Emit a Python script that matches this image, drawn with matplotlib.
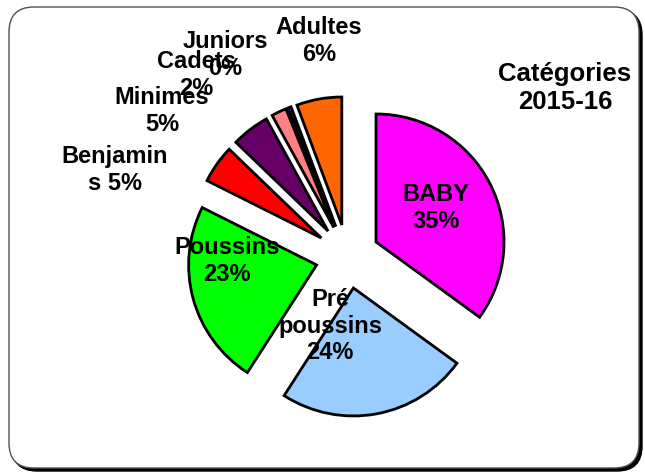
import matplotlib
matplotlib.use("Agg")
import matplotlib.pyplot as plt
from matplotlib.patches import FancyBboxPatch

categories = ["BABY", "Pré\npoussins", "Poussins", "Benjamin\ns", "Minimes", "Cadets", "Juniors", "Adultes"]
values = [35.0, 24.1, 23.3, 4.8, 4.8, 1.9, 0.4, 5.7]
pct_labels = ["35%", "24%", "23%", "5%", "5%", "2%", "0%", "6%"]
colors = ["#FF00FF", "#99CCFF", "#00FF00", "#FF0000", "#660066", "#FF8080", "#0066CC", "#FF6600"]
title = "Catégories\n2015-16"

W, H = 645, 472
fig = plt.figure(figsize=(W / 100, H / 100), dpi=100)
ax = fig.add_axes([0, 0, 1, 1])
ax.set_xlim(0, W)
ax.set_ylim(0, H)

# frame with shadow
shadow = FancyBboxPatch((12, 1), 630, 461, boxstyle="round,pad=0,rounding_size=25",
                        facecolor="black", edgecolor="black", lw=1, zorder=0)
frame = FancyBboxPatch((9, 4), 630, 461, boxstyle="round,pad=0,rounding_size=25",
                       facecolor="white", edgecolor="#505050", lw=1.0, zorder=1)
ax.add_patch(shadow)
ax.add_patch(frame)

R = 128
cx, cy = 347.5, H - 256.5
wedges, _ = ax.pie(values, colors=colors, startangle=90, counterclock=False,
                   radius=R, center=(cx, cy), explode=[32] * len(values), frame=True,
                   wedgeprops=dict(edgecolor="black", linewidth=2.0))
for w in wedges:
    w.set_zorder(2)

ax.set_xlim(0, W)
ax.set_ylim(0, H)
ax.set_aspect("auto")
ax.axis("off")

font = dict(family="Liberation Sans", weight="bold", fontsize=17, ha="center", va="center",
            linespacing=1.18, zorder=5)
label_pos = [(436, 208), (330, 326), (227, 261), (115, 170), (162, 111), (196, 75), (225, 55), (319, 41)]
for name, pct, (x, y) in zip(categories, pct_labels, label_pos):
    if name.startswith("Benjamin"):
        txt = "Benjamin\ns " + pct
    else:
        txt = name + "\n" + pct
    ax.text(x, H - y, txt, **font)

ax.text(565, H - 88, title, family="Liberation Sans", weight="bold", fontsize=18.5,
        ha="center", va="center", linespacing=1.2, zorder=5)

fig.savefig("out.png", dpi=100)
